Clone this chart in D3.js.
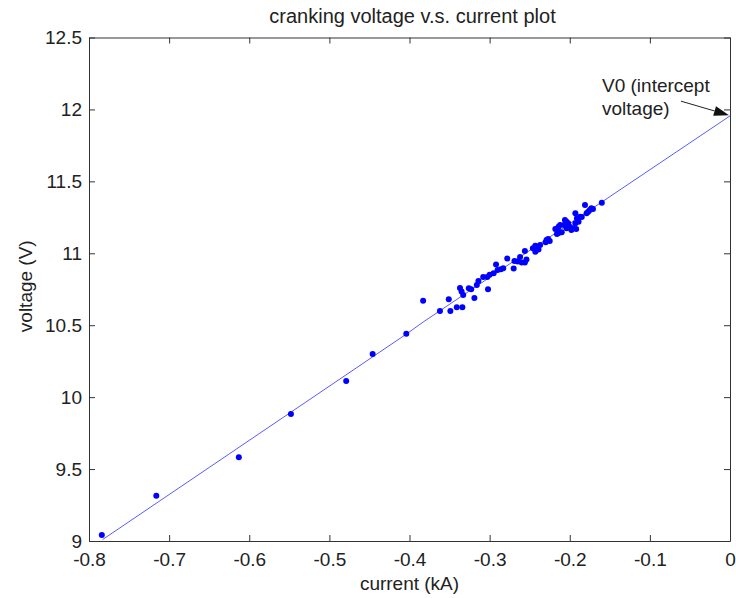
<!DOCTYPE html>
<html>
<head>
<meta charset="utf-8">
<script src="https://cdn.jsdelivr.net/npm/d3@7"></script>
<style>
	body { margin: 0; background: #fff; }
	text { font-family: "Liberation Sans", Arial, sans-serif; fill: #222; }
</style>
</head>
<body>
<div id="chart-area"></div>
<script>
// measured points (current in kA, voltage in V)
let currentKA = [-0.784,-0.716,-0.613,-0.548,-0.479,-0.446,-0.404,-0.383,-0.362,-0.351,
	-0.349,-0.341,-0.334,-0.337,-0.335,-0.333,-0.326,-0.323,-0.319,-0.316,
	-0.314,-0.308,-0.303,-0.302,-0.300,-0.295,-0.292,-0.290,-0.286,-0.283,
	-0.278,-0.270,-0.269,-0.265,-0.262,-0.260,-0.256,-0.256,-0.254,-0.246,
	-0.243,-0.240,-0.239,-0.243,-0.237,-0.230,-0.229,-0.227,-0.225,-0.218,
	-0.216,-0.214,-0.210,-0.214,-0.212,-0.215,-0.206,-0.204,-0.202,-0.207,
	-0.204,-0.200,-0.198,-0.196,-0.193,-0.193,-0.191,-0.187,-0.189,-0.185,
	-0.192,-0.181,-0.179,-0.177,-0.175,-0.173,-0.171,-0.160];
let voltageV = [9.042,9.315,9.582,9.883,10.112,10.300,10.441,10.670,10.599,10.680,
	10.599,10.625,10.625,10.759,10.734,10.710,10.757,10.750,10.689,10.780,
	10.807,10.835,10.835,10.750,10.850,10.861,10.922,10.884,10.889,10.896,
	10.964,10.894,10.946,10.943,10.974,10.936,10.936,11.016,10.957,11.035,
	11.053,11.046,11.026,11.011,11.058,11.076,11.092,11.099,11.085,11.169,
	11.134,11.141,11.146,11.185,11.197,11.155,11.231,11.220,11.208,11.197,
	11.174,11.185,11.162,11.174,11.208,11.279,11.243,11.254,11.220,11.252,
	11.169,11.336,11.279,11.289,11.301,11.313,11.308,11.352];

// fitted line
let fitCurrent = [-0.783, -0.4035, -0.383, 0];
let fitVoltage = [9.01, 10.44, 10.522, 11.955];

let xTicks = [-0.8,-0.7,-0.6,-0.5,-0.4,-0.3,-0.2,-0.1,0];
let xTickLabels = ["-0.8","-0.7","-0.6","-0.5","-0.4","-0.3","-0.2","-0.1","0"];
let yTicks = [9,9.5,10,10.5,11,11.5,12,12.5];
let yTickLabels = ["9","9.5","10","10.5","11","11.5","12","12.5"];

let interceptV = 11.96;

let width = 736,
	height = 598;
let margin = {top:37.5, bottom:57, left:89, right:6};
let plotW = width - margin.left - margin.right,
	plotH = height - margin.top - margin.bottom;

let svg = d3.select('#chart-area').append('svg')
	.attr('width', width)
	.attr('height', height);

let g = svg.append('g')
	.attr("transform", "translate(" + margin.left + "," + margin.top + ")");

let xScale = d3.scaleLinear()
	.domain([-0.8, 0])
	.range([0, plotW]);

let yScale = d3.scaleLinear()
	.domain([9, 12.5])
	.range([plotH, 0]);

let data = currentKA.map((c, i) => ({current:c, voltage:voltageV[i]}));
let fit = fitCurrent.map((c, i) => ({current:c, voltage:fitVoltage[i]}));

// axes (inside ticks, box all round)
let xaxis = d3.axisBottom(xScale)
	.tickValues(xTicks)
	.tickFormat((d, i) => xTickLabels[i])
	.tickSizeInner(-6).tickSizeOuter(0)
	.tickPadding(12);
let yaxis = d3.axisLeft(yScale)
	.tickValues(yTicks)
	.tickFormat((d, i) => yTickLabels[i])
	.tickSizeInner(-6).tickSizeOuter(0)
	.tickPadding(7);
let xtop = d3.axisTop(xScale).tickValues(xTicks).tickFormat("").tickSizeInner(-6).tickSizeOuter(0);
let yright = d3.axisRight(yScale).tickValues(yTicks).tickFormat("").tickSizeInner(-6).tickSizeOuter(0);

g.append('g').attr('class', 'x-axis axis')
	.attr("transform", "translate(0," + plotH + ")")
	.call(xaxis);
g.append('g').attr('class', 'y-axis axis')
	.call(yaxis);
g.append('g').attr('class', 'x-top axis')
	.call(xtop);
g.append('g').attr('class', 'y-right axis')
	.attr("transform", "translate(" + plotW + ",0)")
	.call(yright);

g.selectAll('.axis path').attr('stroke', '#333').attr('stroke-width', 1);
g.selectAll('.axis line').attr('stroke', '#333');
g.selectAll('.axis text')
	.attr('font-size', '19px')
	.attr('font-family', '"Liberation Sans", Arial, sans-serif')
	.attr('fill', '#222');

// fit line
let line = d3.line()
	.x(d => xScale(d.current))
	.y(d => yScale(d.voltage));

g.append('path')
	.datum(fit)
	.attr('d', line)
	.attr('fill', 'none')
	.attr('stroke', '#5b5bff')
	.attr('stroke-width', 1);

// points
g.selectAll("circle")
	.data(data)
	.enter()
	.append("circle")
	.attr("cx", d => xScale(d.current))
	.attr("cy", d => yScale(d.voltage))
	.attr("r", 3)
	.attr("fill", "#0000ff");

// annotation arrow to intercept
let tipX = xScale(0) - 1, tipY = yScale(interceptV);
let tailX = tipX - 48, tailY = tipY - 14;
let ang = Math.atan2(tipY - tailY, tipX - tailX);
let headL = 15, headW = 5;
g.append('line')
	.attr('x1', tailX).attr('y1', tailY)
	.attr('x2', tipX - headL * Math.cos(ang)).attr('y2', tipY - headL * Math.sin(ang))
	.attr('stroke', '#222').attr('stroke-width', 1);
let bx = tipX - headL * Math.cos(ang), by = tipY - headL * Math.sin(ang);
g.append('path')
	.attr('d', "M" + tipX + "," + tipY +
		"L" + (bx + headW * Math.sin(ang)) + "," + (by - headW * Math.cos(ang)) +
		"L" + (bx - headW * Math.sin(ang)) + "," + (by + headW * Math.cos(ang)) + "Z")
	.attr('fill', '#111');

g.append('text')
	.attr('x', xScale(0) - 128)
	.attr('y', tipY - 23)
	.attr('font-size', '19px')
	.text("V0 (intercept");
g.append('text')
	.attr('x', xScale(0) - 128)
	.attr('y', tipY + 0)
	.attr('font-size', '19px')
	.text("voltage)");

// titles
svg.append('text')
	.attr('x', margin.left + plotW / 2 + 3)
	.attr('y', 23)
	.attr('text-anchor', 'middle')
	.attr('font-size', '20px')
	.text("cranking voltage v.s. current plot");

svg.append('text')
	.attr('x', margin.left + plotW / 2)
	.attr('y', 590)
	.attr('text-anchor', 'middle')
	.attr('font-size', '19px')
	.text("current (kA)");

svg.append('text')
	.attr('transform', "translate(32," + (margin.top + plotH / 2 - 3) + ") rotate(-90)")
	.attr('text-anchor', 'middle')
	.attr('font-size', '19px')
	.text("voltage (V)");
</script>
</body>
</html>
